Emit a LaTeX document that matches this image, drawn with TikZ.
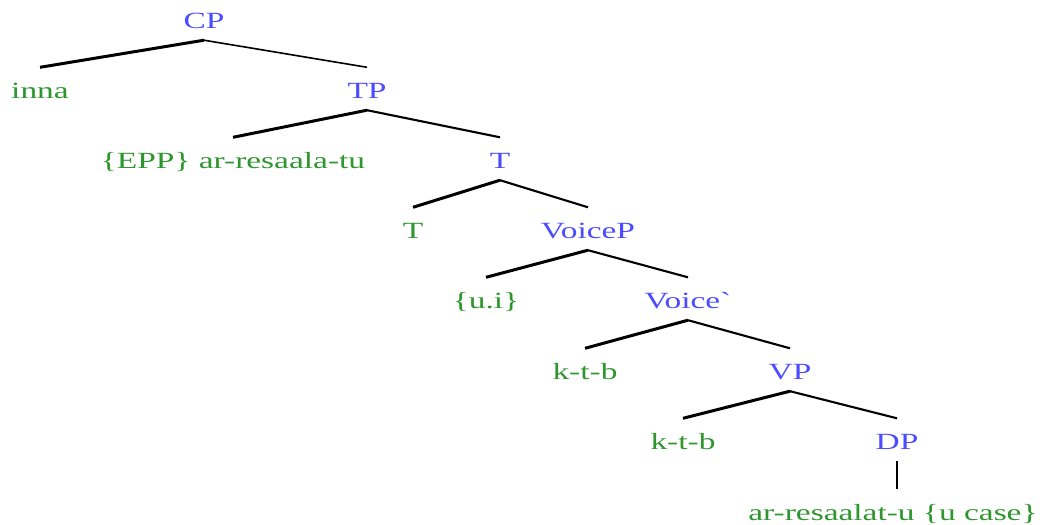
\documentclass[tikz,border=0pt]{standalone}
\usepackage{fontspec}
\newfontfamily\treefont[FakeStretch=1.44]{Liberation Serif}
\definecolor{catblue}{RGB}{75,75,255}
\definecolor{leafgreen}{RGB}{45,150,45}
\begin{document}
\begin{tikzpicture}[x=1pt,y=-1pt,
  lab/.style={font=\treefont\fontsize{23.2}{25}\selectfont, anchor=base,
    inner xsep=0pt, inner ysep=0pt, text height=30.5pt, text depth=12pt},
  cat/.style={lab, text=catblue},
  leaf/.style={lab, text=leafgreen},
  lbr/.style={line width=3pt},
  rbr/.style={line width=2.1pt}]
\useasboundingbox (0,0) rectangle (1042,525);
% categories and leaves, placed on their baselines
\node[cat]  (CP)     at (204,28)  {CP};
\node[leaf] (inna)   at (40,98)   {inna};
\node[cat]  (TP)     at (367,98)  {TP};
\node[leaf] (spec)   at (233,168) {\{EPP\} ar-resaala-tu};
\node[cat]  (Tbar)   at (500,168) {T};
\node[leaf] (T)      at (413,238) {T};
\node[cat]  (VoiceP) at (588,238) {VoiceP};
\node[leaf] (ui)     at (486,308) {\{u.i\}};
\node[cat]  (Voice)  at (688,308) {Voice`};
\node[leaf] (ktb)    at (585,379) {k-t-b};
\node[cat]  (VP)     at (790,379) {VP};
\node[leaf] (ktbb)   at (683,449) {k-t-b};
\node[cat]  (DP)     at (897,449) {DP};
\node[leaf] (obj)    at (893,520) {ar-resaalat-u \{u case\}};
% branches
\draw[lbr] (CP.south) -- (inna.north);
\draw[line width=1.6pt] (CP.south) -- (TP.north);
\draw[lbr] (TP.south) -- (spec.north);
\draw[rbr] (TP.south) -- (Tbar.north);
\draw[lbr] (Tbar.south) -- (T.north);
\draw[rbr] (Tbar.south) -- (VoiceP.north);
\draw[lbr] (VoiceP.south) -- (ui.north);
\draw[rbr] (VoiceP.south) -- (Voice.north);
\draw[lbr] (Voice.south) -- (ktb.north);
\draw[rbr] (Voice.south) -- (VP.north);
\draw[lbr] (VP.south) -- (ktbb.north);
\draw[rbr] (VP.south) -- (DP.north);
\draw[rbr] (DP.south -| DP.center) -- (DP.south |- obj.north);
\end{tikzpicture}
\end{document}
